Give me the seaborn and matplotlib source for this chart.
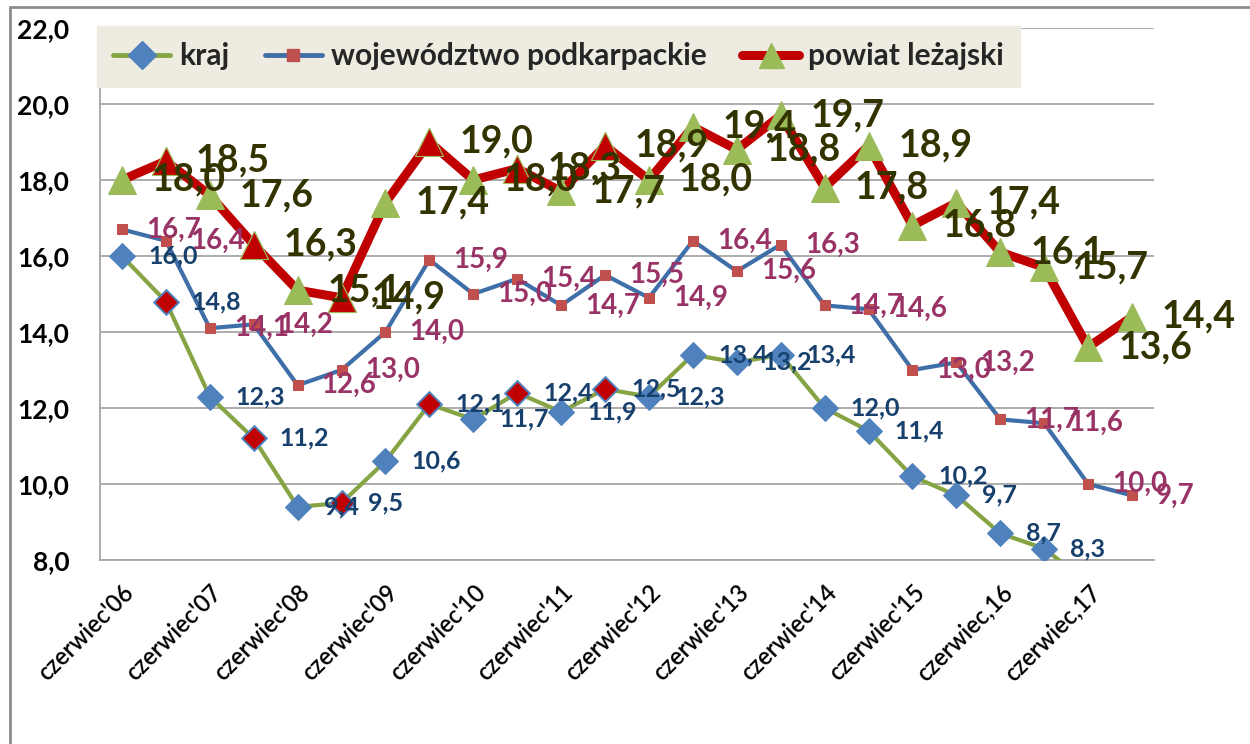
import matplotlib

matplotlib.use("Agg")

import matplotlib.pyplot as plt
import matplotlib.lines as mlines
import numpy as np
import pandas as pd
import seaborn as sns
from matplotlib.ticker import FuncFormatter

# half-year points, June '06 .. December '17
periods = list(range(24))
tick_labels = [
    "czerwiec'06", "czerwiec'07", "czerwiec'08", "czerwiec'09",
    "czerwiec'10", "czerwiec'11", "czerwiec'12", "czerwiec'13",
    "czerwiec'14", "czerwiec'15", "czerwiec,16", "czerwiec,17",
]
kraj = [16.0, 14.8, 12.3, 11.2, 9.4, 9.5, 10.6, 12.1, 11.7, 12.4, 11.9, 12.5,
        12.3, 13.4, 13.2, 13.4, 12.0, 11.4, 10.2, 9.7, 8.7, 8.3, 7.4, 7.3]
wojewodztwo = [16.7, 16.4, 14.1, 14.2, 12.6, 13.0, 14.0, 15.9, 15.0, 15.4, 14.7, 15.5,
               14.9, 16.4, 15.6, 16.3, 14.7, 14.6, 13.0, 13.2, 11.7, 11.6, 10.0, 9.7]
powiat = [18.0, 18.5, 17.6, 16.3, 15.1, 14.9, 17.4, 19.0, 18.0, 18.3, 17.7, 18.9,
          18.0, 19.4, 18.8, 19.7, 17.8, 18.9, 16.8, 17.4, 16.1, 15.7, 13.6, 14.4]
# points drawn with a red marker in the source chart
red_points = [1, 3, 5, 7, 9, 11]

df = pd.DataFrame({"okres": periods, "kraj": kraj,
                   "wojewodztwo": wojewodztwo, "powiat": powiat})

sns.set_style("white")
plt.rcParams["font.family"] = ["Lato", "DejaVu Sans"]

fig = plt.figure(figsize=(12.5, 7.44), dpi=100)
ax = fig.add_axes([0.08, 0.2473, 0.8432, 0.7151])

GREEN = "#86A443"
BLUE_LINE = "#3F6FA8"
DIAMOND = "#4F81BD"
RED = "#C00000"
SQUARE = "#C0504D"
TRI = "#9BBB59"

sns.lineplot(data=df, x="okres", y="powiat", ax=ax, color=RED, linewidth=6.5,
             marker="^", markersize=20, markerfacecolor=TRI, markeredgecolor=TRI,
             zorder=3)
sns.lineplot(data=df, x="okres", y="wojewodztwo", ax=ax, color=BLUE_LINE, linewidth=3,
             marker="s", markersize=6.5, markerfacecolor=SQUARE, markeredgecolor=SQUARE,
             zorder=4)
sns.lineplot(data=df, x="okres", y="kraj", ax=ax, color=GREEN, linewidth=3,
             marker="D", markersize=13, markerfacecolor=DIAMOND, markeredgecolor=DIAMOND,
             zorder=5)

red = df.loc[red_points]
ax.plot(red["okres"], red["kraj"], ls="none", marker="D", markersize=10,
        markerfacecolor=RED, markeredgecolor=RED, zorder=6)
ax.plot(red["okres"], red["powiat"], ls="none", marker="^", markersize=20,
        markerfacecolor=RED, markeredgecolor=TRI, markeredgewidth=0.8, zorder=6)

ax.set_xlim(-0.5, 23.5)
ax.set_ylim(8, 22)


def fmt(v):
    return f"{v:.1f}".replace(".", ",")


label_styles = [
    ("kraj", "#17406D", 18, "bold", 26),
    ("wojewodztwo", "#993366", 20, "bold", 24),
    ("powiat", "#333300", 27, "bold", 30),
]
for col, color, size, weight, dx in label_styles:
    for x, v in zip(df["okres"], df[col]):
        if v < 8:
            continue
        ax.annotate(fmt(v), (x, v), xytext=(dx, 0), textcoords="offset pixels",
                    ha="left", va="center", color=color, fontsize=size,
                    fontweight=weight, zorder=10, annotation_clip=False)

ax.set_yticks(np.arange(8, 23, 2))
ax.yaxis.set_major_formatter(FuncFormatter(lambda v, _: fmt(v)))
ax.set_xticks(periods[::2])
ax.set_xticklabels(tick_labels, rotation=45, ha="right", rotation_mode="anchor")
ax.tick_params(axis="y", length=0, pad=22, labelsize=19, labelcolor="black")
ax.tick_params(axis="x", length=0, pad=15, labelsize=17, labelcolor="black")
for t in ax.get_yticklabels():
    t.set_fontweight("bold")
for t in ax.get_xticklabels():
    t.set_fontweight("semibold")
ax.set_xlabel("")
ax.set_ylabel("")
ax.grid(axis="y", color="#A6A6A6", linewidth=1.3)
ax.grid(axis="x", visible=False)
for side in ("top", "right"):
    ax.spines[side].set_visible(False)
for side in ("left", "bottom"):
    ax.spines[side].set_color("#A6A6A6")
    ax.spines[side].set_linewidth(1.3)

handles = [
    mlines.Line2D([], [], color=GREEN, lw=3.5, marker="D", markersize=14,
                  markerfacecolor=DIAMOND, markeredgecolor=DIAMOND),
    mlines.Line2D([], [], color=BLUE_LINE, lw=3.5, marker="s", markersize=8,
                  markerfacecolor=SQUARE, markeredgecolor=SQUARE),
    mlines.Line2D([], [], color=RED, lw=6.5, marker="^", markersize=18,
                  markerfacecolor=TRI, markeredgecolor=TRI, solid_capstyle="round"),
]
leg = fig.legend(handles, ["kraj", "województwo podkarpackie", "powiat leżajski"],
                 loc="upper left", bbox_to_anchor=(0.0776, 0.9651),
                 ncol=3, frameon=True, fancybox=False,
                 facecolor="#EEECE1", edgecolor="#EEECE1", framealpha=1,
                 borderaxespad=0, borderpad=0.55, handlelength=1.9,
                 handletextpad=0.3, columnspacing=1.2,
                 prop={"size": 21.5, "weight": "bold"})
leg.set_zorder(20)

fig.add_artist(mlines.Line2D([0.008, 0.008], [0, 0.9906], transform=fig.transFigure,
                             color="#8C8C8C", lw=2))
fig.add_artist(mlines.Line2D([0.008, 1.0], [0.9906, 0.9906], transform=fig.transFigure,
                             color="#8C8C8C", lw=2))

fig.savefig("out.png", dpi=100)
